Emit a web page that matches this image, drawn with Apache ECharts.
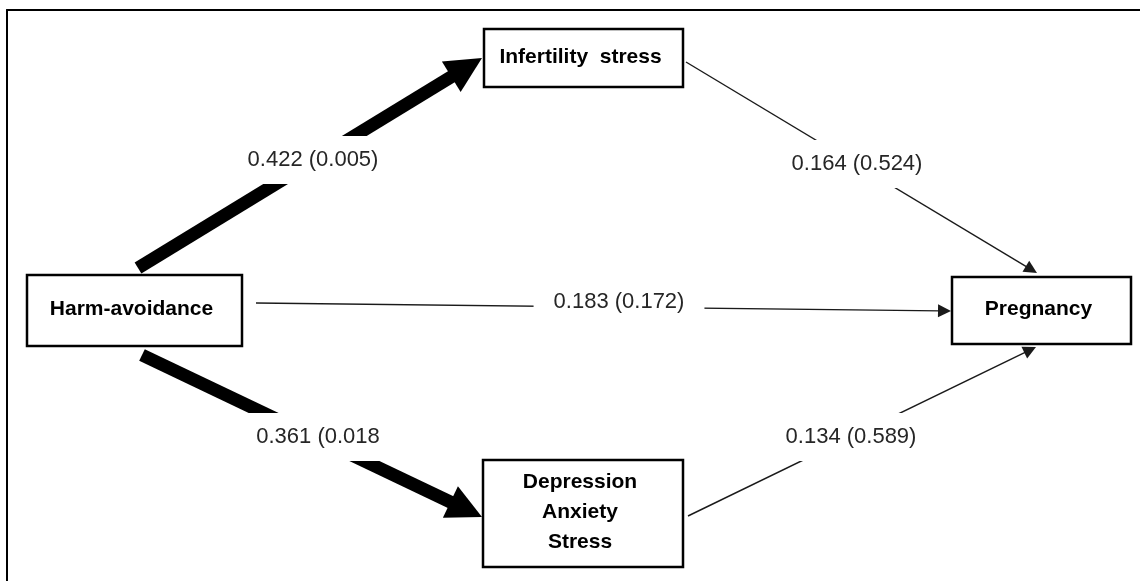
<!DOCTYPE html>
<html>
<head>
<meta charset="utf-8">
<script src="https://cdn.jsdelivr.net/npm/echarts@6/dist/echarts.min.js"></script>
<style>
  html, body { margin: 0; padding: 0; background: #fff; }
  #chart { width: 1140px; height: 581px; }
</style>
</head>
<body>
<div id="chart"></div>
<script>
// variables of the path model
const variableNames = ['Harm-avoidance', 'Infertility  stress', 'Depression\nAnxiety\nStress', 'Pregnancy']

// paths: from -> to, coefficient (p-value) as printed on the figure
const pathFrom = [0, 0, 0, 1, 2]
const pathTo = [1, 3, 2, 3, 3]
const pathLabels = ['0.422 (0.005)', '0.183 (0.172)', '0.361 (0.018', '0.164 (0.524)', '0.134 (0.589)']

// diagram layout, in figure units (y grows downward)
const boxLeft = [27, 484, 483, 952]
const boxRight = [242, 683, 683, 1131]
const boxTop = [275, 29, 460, 277]
const boxBottom = [346, 87, 567, 344]
const pathStart = [[138, 268], [256, 303], [142, 355], [686, 62], [688, 516]]
const pathEnd = [[482, 58], [951, 311], [482, 517], [1037, 273], [1036, 347]]
const labelAt = [[313, 160], [619, 302], [318, 437], [857, 164], [851, 437]]

// styles
const pathWidth = [13, 1.4, 13, 1.4, 1.4]
const headSize = [36, 13, 35, 13, 13]
const pathColor = ['#000', '#1a1a1a', '#000', '#1a1a1a', '#1a1a1a']

const myChart = echarts.init(document.getElementById('chart'))

const renderPath = (params, api) => {
  const i = params.dataIndex
  const a = api.coord([api.value(0), api.value(1)])
  const b = api.coord([api.value(2), api.value(3)])
  const dx = b[0] - a[0]
  const dy = b[1] - a[1]
  const len = Math.hypot(dx, dy)
  const ux = dx / len
  const uy = dy / len
  const h = headSize[i]
  const bx = b[0] - ux * h
  const by = b[1] - uy * h
  return {
    type: 'group',
    children: [
      {
        type: 'line',
        shape: { x1: a[0], y1: a[1], x2: bx + ux * 2, y2: by + uy * 2 },
        style: { stroke: pathColor[i], lineWidth: pathWidth[i], lineCap: 'butt' }
      },
      {
        type: 'polygon',
        shape: { points: [b, [bx - uy * h / 2, by + ux * h / 2], [bx + uy * h / 2, by - ux * h / 2]] },
        style: { fill: pathColor[i] }
      }
    ]
  }
}

const renderBox = (params, api) => {
  const i = params.dataIndex
  const p0 = api.coord([api.value(0), api.value(1)])
  const p1 = api.coord([api.value(2), api.value(3)])
  return {
    type: 'group',
    children: [
      {
        type: 'rect',
        shape: { x: p0[0], y: p0[1], width: p1[0] - p0[0], height: p1[1] - p0[1] },
        style: { fill: '#fff', stroke: '#000', lineWidth: 2.5 }
      },
      {
        type: 'text',
        style: {
          text: variableNames[i],
          x: (p0[0] + p1[0]) / 2 - 3,
          y: (p0[1] + p1[1]) / 2 - 1,
          align: 'center',
          verticalAlign: 'middle',
          font: 'bold 21px "Liberation Sans", Arial, sans-serif',
          lineHeight: 30,
          fill: '#000'
        }
      }
    ]
  }
}

const renderLabel = (params, api) => {
  const i = params.dataIndex
  const p = api.coord([api.value(0), api.value(1)])
  return {
    type: 'text',
    style: {
      text: pathLabels[i],
      x: p[0],
      y: p[1],
      align: 'center',
      verticalAlign: 'middle',
      font: '22px "Liberation Sans", Arial, sans-serif',
      fill: '#262626',
      backgroundColor: '#fff',
      padding: [13, 20]
    }
  }
}

const options = {
  animation: false,
  backgroundColor: '#fff',
  grid: { left: 7, top: 10, right: 0, bottom: 0 },
  xAxis: {
    type: 'value',
    min: 7,
    max: 1140,
    position: 'top',
    axisLine: { show: true, onZero: false, lineStyle: { color: '#000', width: 2 } },
    axisTick: { show: false },
    axisLabel: { show: false },
    splitLine: { show: false }
  },
  yAxis: {
    type: 'value',
    min: 10,
    max: 581,
    inverse: true,
    position: 'left',
    axisLine: { show: true, onZero: false, lineStyle: { color: '#000', width: 2 } },
    axisTick: { show: false },
    axisLabel: { show: false },
    splitLine: { show: false }
  },
  series: [
    {
      name: 'paths',
      type: 'custom',
      z: 1,
      renderItem: renderPath,
      data: pathFrom.map((f, i) => [pathStart[i][0], pathStart[i][1], pathEnd[i][0], pathEnd[i][1], f, pathTo[i]])
    },
    {
      name: 'variables',
      type: 'custom',
      z: 2,
      renderItem: renderBox,
      data: variableNames.map((n, i) => [boxLeft[i], boxTop[i], boxRight[i], boxBottom[i]])
    },
    {
      name: 'coefficients',
      type: 'custom',
      z: 3,
      renderItem: renderLabel,
      data: pathLabels.map((t, i) => [labelAt[i][0], labelAt[i][1]])
    }
  ]
}

myChart.setOption(options)
</script>
</body>
</html>
